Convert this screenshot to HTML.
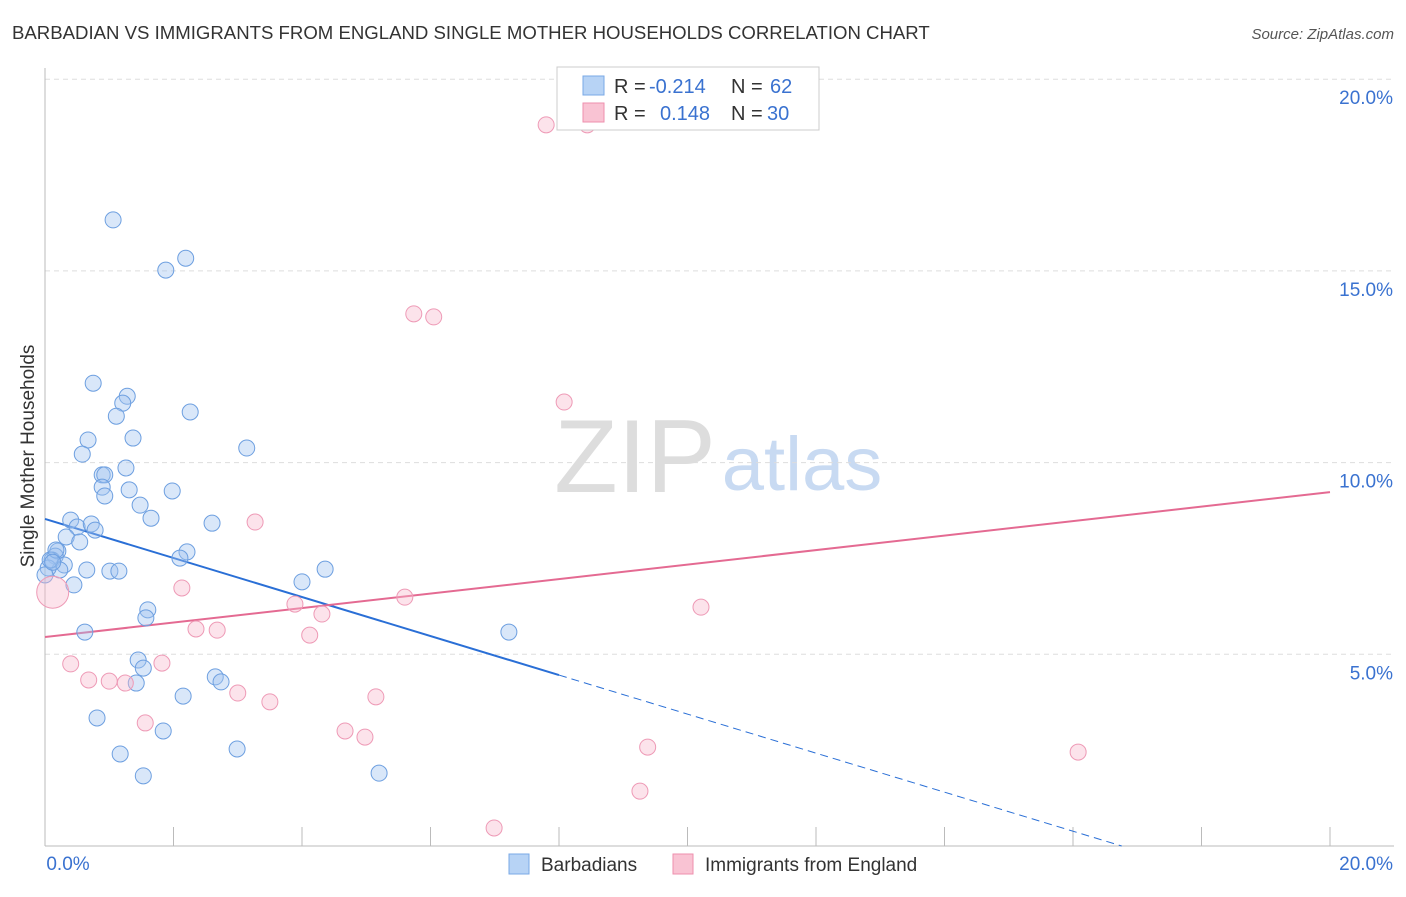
<!DOCTYPE html>
<html><head><meta charset="utf-8"><style>
body{margin:0;background:#fff;font-family:"Liberation Sans",sans-serif;}
svg text{font-family:"Liberation Sans",sans-serif;}
</style></head><body>
<svg id="chart" width="1406" height="892" xmlns="http://www.w3.org/2000/svg">
<text x="12" y="39" font-size="18.6" fill="#333">BARBADIAN VS IMMIGRANTS FROM ENGLAND SINGLE MOTHER HOUSEHOLDS CORRELATION CHART</text>
<text x="1394" y="39" font-size="15" fill="#555" text-anchor="end" font-style="italic">Source: ZipAtlas.com</text>
<text transform="translate(34,456) rotate(-90)" font-size="19" fill="#333" text-anchor="middle">Single Mother Households</text>
<g><text x="635" y="492" font-size="104" fill="#ddd" text-anchor="middle" font-family="Liberation Serif,serif">ZIP</text><text x="802" y="490" font-size="76" fill="#c8daf2" text-anchor="middle">atlas</text></g>
<g id="grid"></g><g id="axes"></g><g id="lines"></g><g id="pts"></g>
<g>
<rect x="557" y="67" width="262" height="63" fill="#fff" stroke="#ccc"/>
<rect x="583" y="76" width="21" height="19" fill="#b7d3f5" stroke="#7aa8e6"/>
<rect x="583" y="103" width="21" height="19" fill="#f9c3d3" stroke="#ee8fae"/>
<text x="614" y="93" font-size="20" fill="#333">R =</text><text x="649" y="93" font-size="20" fill="#3a72d0">-0.214</text>
<text x="731" y="93" font-size="20" fill="#333">N =</text><text x="770" y="93" font-size="20" fill="#3a72d0">62</text>
<text x="614" y="120" font-size="20" fill="#333">R =</text><text x="660" y="120" font-size="20" fill="#3a72d0">0.148</text>
<text x="731" y="120" font-size="20" fill="#333">N =</text><text x="767" y="120" font-size="20" fill="#3a72d0">30</text>
</g>
<g>
<rect x="509" y="854" width="20" height="20" fill="#b7d3f5" stroke="#7aa8e6"/>
<text x="541" y="871" font-size="19" fill="#333">Barbadians</text>
<rect x="673" y="854" width="20" height="20" fill="#f9c3d3" stroke="#ee8fae"/>
<text x="705" y="871" font-size="19" fill="#333">Immigrants from England</text>
</g>
</svg>
<script>
const blueX=[1.06,2.19,1.88,0.75,1.28,1.21,1.11,2.26,0.67,1.37,0.58,3.14,0.89,0.93,1.26,0.89,1.31,0.93,1.98,1.48,1.65,0.40,2.60,0.50,0.72,0.78,0.33,0.54,0.20,0.16,0.11,2.21,2.10,0.30,0.23,0.65,1.01,1.15,4.36,4.00,0.45,1.60,1.57,0.62,7.22,1.45,1.53,1.42,2.65,2.74,2.15,0.81,1.84,2.99,1.17,1.53,5.20,0.05,0.08,0.17,0.0,0.12];
const blueY=[16.33,15.33,15.02,12.07,11.73,11.55,11.21,11.32,10.59,10.64,10.22,10.38,9.68,9.68,9.86,9.36,9.29,9.13,9.26,8.89,8.55,8.50,8.42,8.32,8.40,8.24,8.06,7.93,7.69,7.56,7.46,7.67,7.51,7.33,7.20,7.20,7.17,7.17,7.22,6.89,6.81,6.16,5.95,5.58,5.58,4.85,4.64,4.25,4.41,4.28,3.91,3.34,3.00,2.53,2.40,1.83,1.90,7.25,7.46,7.72,7.07,7.40];
const pinkX=[7.80,8.44,5.74,6.05,8.08,3.27,2.13,5.60,3.89,4.31,10.21,2.35,2.68,4.12,0.40,1.82,0.68,1.00,1.25,3.00,3.50,5.15,1.56,4.67,4.98,9.38,16.08,9.26,6.99,0.12];
const pinkY=[18.81,18.81,13.88,13.80,11.58,8.45,6.73,6.49,6.31,6.05,6.23,5.66,5.63,5.50,4.75,4.77,4.33,4.30,4.25,3.99,3.76,3.89,3.21,3.00,2.84,2.58,2.45,1.43,0.47,6.62];
const yTicks=[5,10,15,20];
const xTickVals=[0,2,4,6,8,10,12,14,16,18,20];
const blueLine=[8.53,-0.509];
const pinkLine=[5.45,0.189];
const NS="http://www.w3.org/2000/svg";
const X=v=>45+v/20*1285, Y=v=>846-v/5*191.7;
function mk(t,a,p){const e=document.createElementNS(NS,t);for(const k in a)e.setAttribute(k,a[k]);p.appendChild(e);return e;}
const grid=document.getElementById('grid'),axes=document.getElementById('axes'),lines=document.getElementById('lines'),pts=document.getElementById('pts');
yTicks.forEach(v=>{
 const l=mk('line',{x1:45,x2:1394,y1:Y(v),y2:Y(v),stroke:'#ddd','stroke-dasharray':'5,4'},grid);
 
 
 const t=mk('text',{x:1393,y:Y(v)+25,'font-size':19,fill:'#3a72d0','text-anchor':'end'},axes);t.textContent=v.toFixed(1)+'%';
 
 
});
const ax=mk('line',{x1:45,x2:1394,y1:846,y2:846,stroke:'#bbb'},axes);


const ay=mk('line',{x1:45,x2:45,y1:68,y2:846,stroke:'#bbb'},axes);


xTickVals.forEach(v=>{const l=mk('line',{x1:X(v),x2:X(v),y1:827,y2:846,stroke:'#bbb'},axes);
 
 });
[[0,'0.0%',68,'middle'],[20,'20.0%',1393,'end']].forEach(a=>{const t=mk('text',{x:a[2],y:870,'font-size':19,fill:'#3a72d0','text-anchor':a[3]},axes);t.textContent=a[1];
 
 });
const bEnd=8, bZero=-blueLine[0]/blueLine[1];
const b1=mk('line',{x1:X(0),y1:Y(blueLine[0]),x2:X(bEnd),y2:Y(blueLine[0]+blueLine[1]*bEnd),stroke:'#2a6fd6','stroke-width':2},lines);


const b2=mk('line',{x1:X(bEnd),y1:Y(blueLine[0]+blueLine[1]*bEnd),x2:X(bZero),y2:Y(0),stroke:'#2a6fd6','stroke-width':1,'stroke-dasharray':'8,5'},lines);


const p1=mk('line',{x1:X(0),y1:Y(pinkLine[0]),x2:X(20),y2:Y(pinkLine[0]+pinkLine[1]*20),stroke:'#e46a92','stroke-width':2},lines);


blueX.forEach((v,i)=>{const c=mk('circle',{cx:X(v),cy:Y(blueY[i]),r:8,fill:'rgba(160,196,240,0.4)',stroke:'#6d9fe0','stroke-width':1},pts);
 
 });
pinkX.forEach((v,i)=>{const c=mk('circle',{cx:X(v),cy:Y(pinkY[i]),r:i==pinkX.length-1?16:8,fill:'rgba(248,184,204,0.4)',stroke:'#ee9ab6','stroke-width':1},pts);
 
 });
</script>
</body></html>
